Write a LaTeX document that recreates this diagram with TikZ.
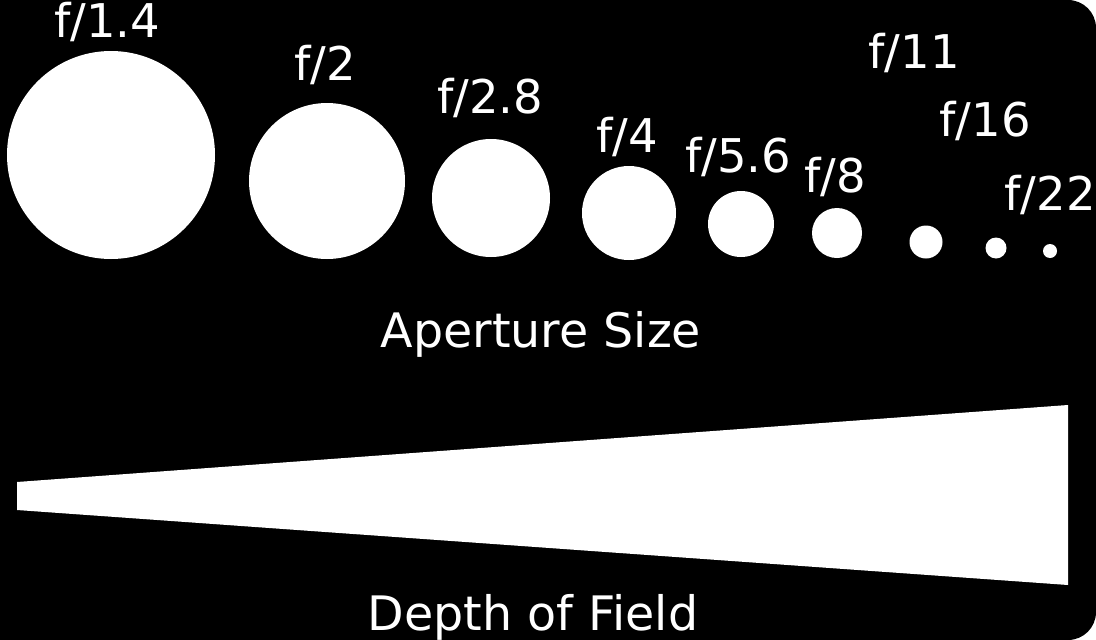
\documentclass[tikz,border=0pt]{standalone}
\usepackage{fontspec}
\setmainfont{DejaVu Sans}

\begin{document}
\begin{tikzpicture}[x=1pt,y=-1pt]
    \tikzset{hole/.style={circle,fill=white,inner sep=0pt},
        fstop/.style={text=white,anchor=base,inner sep=0pt,
            font=\fontsize{46.5}{56}\selectfont},
        title/.style={fstop,font=\fontsize{47.5}{57}\selectfont}}
    \useasboundingbox (0,0) rectangle (1096,640);
    % Frame
    \fill[white] (0,0) rectangle (1096,640);
    \fill[black] (0,0) [rounded corners=28pt] -- (1096,0) -- (1096,640)
        [sharp corners] -- (0,640) -- cycle;
    % Apertures
    \node[hole,minimum size=208pt] (a14) at (111,155) {};
    \node[hole,minimum size=156pt] (a2)  at (327,181) {};
    \node[hole,minimum size=118pt] (a28) at (491,198) {};
    \node[hole,minimum size=94pt]  (a4)  at (629,213) {};
    \node[hole,minimum size=66pt]  (a56) at (741,224) {};
    \node[hole,minimum size=50pt]  (a8)  at (837,233) {};
    \node[hole,minimum size=33pt]  (a11) at (926,242) {};
    \node[hole,minimum size=21pt]  (a16) at (996,248) {};
    \node[hole,minimum size=14pt]  (a22) at (1050,251) {};
    % Labels
    \node[fstop] (l14) at (107,37)  {f/1.4};
    \node[fstop] (l2)  at (325,80)  {f/2};
    \node[fstop] (l28) at (490,113) {f/2.8};
    \node[fstop] (l4)  at (627,152) {f/4};
    \node[fstop] (l56) at (738,172) {f/5.6};
    \node[fstop] (l8)  at (835,192) {f/8};
    \node[fstop] (l11) at (914,68)  {f/11};
    \node[fstop] (l16) at (985,136) {f/16};
    \node[fstop] (l22) at (1050,210) {f/22};
    \node[title] (size) at (541,347) {Aperture Size};
    % Depth of field wedge
    \fill[white] (17,482) -- (1068,405) -- (1068,585) -- (17,510) -- cycle;
    \node[title] (dof) at (533,630) {Depth of Field};
\end{tikzpicture}
\end{document}
